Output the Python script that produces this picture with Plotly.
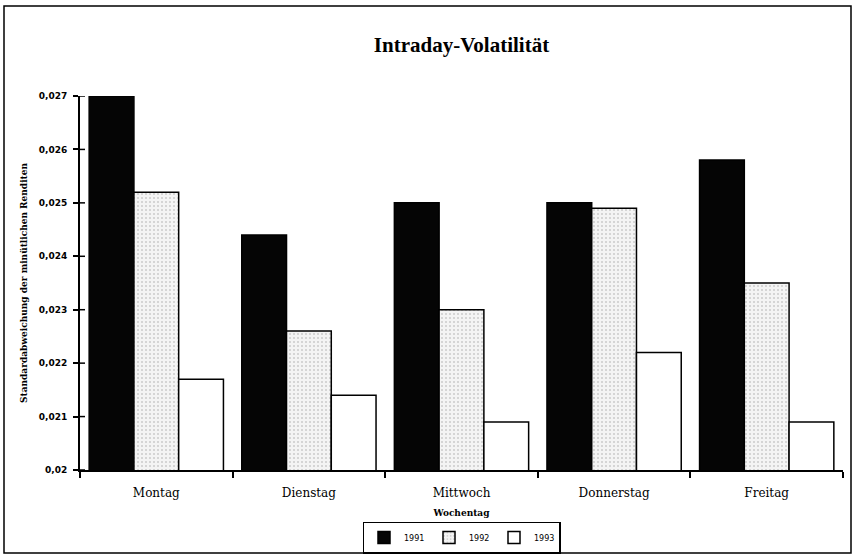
import plotly.graph_objects as go

# Weekdays and the intraday volatility per year
weekdays = ["Montag", "Dienstag", "Mittwoch", "Donnerstag", "Freitag"]
years = ["1991", "1992", "1993"]
vol_1991 = [0.0270, 0.0244, 0.0250, 0.0250, 0.0258]
vol_1992 = [0.0252, 0.0226, 0.0230, 0.0249, 0.0235]
vol_1993 = [0.0217, 0.0214, 0.0209, 0.0222, 0.0209]

y_tickvals = [0.020, 0.021, 0.022, 0.023, 0.024, 0.025, 0.026, 0.027]
y_ticktext = ["0,02", "0,021", "0,022", "0,023", "0,024", "0,025", "0,026", "0,027"]

series = [vol_1991, vol_1992, vol_1993]
fills = [
    dict(color="#050505"),
    dict(color="#ededed", pattern=dict(shape=".", fgcolor="#a8a8a8", bgcolor="#f4f4f4", size=4, solidity=0.22)),
    dict(color="#ffffff"),
]

fig = go.Figure()
for name, vals, fill in zip(years, series, fills):
    fig.add_trace(go.Bar(
        x=weekdays, y=vals, name=name,
        marker=dict(line=dict(color="#000000", width=1.5), **fill),
    ))

W, H = 853, 556
L, R, T, B = 80, 10, 96, 86
pw, ph = W - L - R, H - T - B

def px(x):
    return (x - L) / pw

def py(y):
    return (H - B - y) / ph

shapes = [
    # outer frame around the whole chart
    dict(type="rect", xref="paper", yref="paper",
         x0=px(4), x1=px(851), y0=py(553), y1=py(6),
         line=dict(color="#000000", width=1.5), fillcolor="rgba(0,0,0,0)", layer="below"),
]
# inner half of the crossing y-axis ticks
for v in y_tickvals:
    shapes.append(dict(type="line", xref="paper", yref="y",
                       x0=0, x1=5 / pw, y0=v, y1=v,
                       line=dict(color="#000000", width=1.5)))

fig.update_layout(
    width=W, height=H,
    margin=dict(l=L, r=R, t=T, b=B, autoexpand=False),
    paper_bgcolor="#ffffff", plot_bgcolor="#ffffff",
    barmode="group", bargap=0.12, bargroupgap=0,
    title=dict(text="<b>Intraday-Volatilität</b>", x=0.5, xref="paper", xanchor="center",
               y=1 - 45 / H, yanchor="middle",
               font=dict(family="Liberation Serif", size=21, color="#000000")),
    xaxis=dict(
        automargin=False,
        title=dict(text="<b>Wochentag</b>", standoff=10,
                   font=dict(family="DejaVu Serif", size=9, color="#000000")),
        tickfont=dict(family="DejaVu Serif", size=12, color="#000000"),
        ticklabelstandoff=11,
        showline=True, linecolor="#000000", linewidth=2,
        ticks="outside", tickson="boundaries", ticklen=6, tickwidth=1.5, tickcolor="#000000",
        showgrid=False, zeroline=False,
    ),
    yaxis=dict(
        automargin=False,
        title=dict(text="<b>Standardabweichung der minütlichen Renditen</b>", standoff=10,
                   font=dict(family="DejaVu Serif", size=9, color="#000000")),
        range=[0.020, 0.027],
        tickvals=y_tickvals, ticktext=y_ticktext,
        tickfont=dict(family="DejaVu Sans", size=9, color="#000000", weight="bold"),
        ticklabelstandoff=4,
        showline=True, linecolor="#000000", linewidth=2,
        ticks="outside", ticklen=5, tickwidth=1.5, tickcolor="#000000",
        showgrid=False, zeroline=False,
    ),
    legend=dict(
        orientation="h", x=0.5, xanchor="center", y=py(537.5), yanchor="middle",
        bordercolor="#000000", borderwidth=1.5, bgcolor="#ffffff",
        font=dict(family="DejaVu Sans", size=8, color="#000000"),
        itemwidth=30, entrywidth=20, entrywidthmode="pixels", tracegroupgap=0,
    ),
    shapes=shapes,
)

fig.write_html("out.html")
